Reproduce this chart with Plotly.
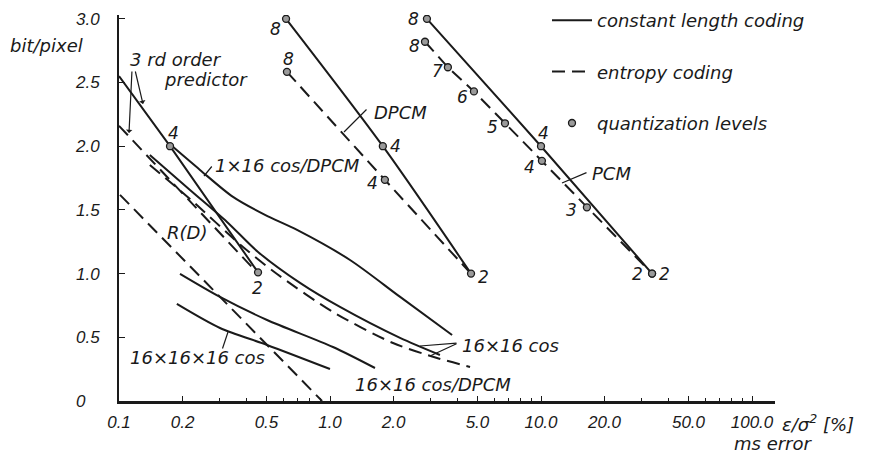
import math
import plotly.graph_objects as go

# ---------------- data ----------------
# PCM
pcm_cl_x = [2.88, 10.0, 33.6]
pcm_cl_y = [3.0, 2.0, 1.0]
pcm_cl_lv = ["8", "4", "2"]
pcm_ec_x = [2.82, 3.62, 4.81, 6.75, 10.1, 16.5, 33.6]
pcm_ec_y = [2.82, 2.62, 2.43, 2.18, 1.885, 1.52, 1.0]
pcm_ec_lv = ["8", "7", "6", "5", "4", "3", "2"]
# DPCM
dpcm_cl_x = [0.619, 1.78, 4.66]
dpcm_cl_y = [3.0, 2.0, 1.0]
dpcm_cl_lv = ["8", "4", "2"]
dpcm_ec_x = [0.625, 1.82, 4.66]
dpcm_ec_y = [2.584, 1.736, 1.0]
dpcm_ec_lv = ["8", "4"]
# DPCM, 3rd order predictor
p3_cl_x = [0.1, 0.1745, 0.456]
p3_cl_y = [2.55, 2.0, 1.01]
p3_cl_lv = ["4", "2"]
p3_ec_x = [0.1, 0.291, 0.456]
p3_ec_y = [2.16, 1.343, 1.0]
# 1x16 cos/DPCM
c1x16_x = [0.180, 0.242, 0.347, 0.492, 0.698, 1.244, 2.15, 3.79]
c1x16_y = [1.995, 1.814, 1.602, 1.461, 1.343, 1.107, 0.817, 0.518]
# 16x16 cos
c16_cl_x = [0.140, 0.217, 0.325, 0.456, 0.721, 1.115, 2.147, 3.32]
c16_cl_y = [1.932, 1.657, 1.406, 1.170, 0.927, 0.738, 0.495, 0.361]
c16_ec_x = [0.140, 0.217, 0.387, 0.561, 1.033, 1.989, 3.215, 4.61]
c16_ec_y = [1.853, 1.586, 1.209, 0.997, 0.699, 0.455, 0.338, 0.267]
# 16x16 cos/DPCM
c16d_x = [0.1946, 0.301, 0.503, 1.033, 1.634]
c16d_y = [0.998, 0.817, 0.636, 0.424, 0.259]
# 16x16x16 cos
c3d_x = [0.188, 0.301, 0.503, 1.0]
c3d_y = [0.762, 0.573, 0.44, 0.251]
# R(D)
rd_x = [0.1011, 0.279, 0.917]
rd_y = [1.618, 0.872, 0.0]

x_tickvals = [0.1, 0.2, 0.5, 1, 2, 5, 10, 20, 50, 100]
x_ticktext = ["0.1", "0.2", "0.5", "1.0", "2.0", "5.0", "10.0", "20.0", "50.0", "100.0"]
x_minor = [0.3, 0.4, 0.6, 0.7, 0.8, 0.9, 3, 4, 6, 7, 8, 9, 30, 40, 60, 70, 80, 90]
y_tickvals = [0, 0.5, 1.0, 1.5, 2.0, 2.5, 3.0]
y_ticktext = ["0\u00a0\u00a0\u00a0", "0.5", "1.0", "1.5", "2.0", "2.5", "3.0"]

# ---------------- styling ----------------
INK = "#1a1a1a"
LW = 2.0
DASH = "13px,7px"
LFONT = dict(family="DejaVu Sans", size=18, color=INK, style="italic")
NFONT = dict(family="DejaVu Sans", size=17, color=INK, style="italic")
TFONT = dict(family="Liberation Sans", size=17, color=INK, style="italic")

# page layout (page pixels); the page body adds an 8 px offset
OFF = 8
L, R, T, B = 119, 775, 15, 401
FW, FH = 878 - OFF, 460 - OFF

fig = go.Figure()


def line(x, y, dashed=False, name=None, legend=False, shape="linear"):
    fig.add_trace(go.Scatter(
        x=x, y=y, mode="lines", name=name, showlegend=legend,
        legendgroup=name if legend else None,
        line=dict(color=INK, width=LW, dash=DASH if dashed else "solid", shape=shape, smoothing=0.8),
        hoverinfo="skip"))


line(pcm_cl_x, pcm_cl_y, name="constant length coding", legend=True)
line(pcm_ec_x, pcm_ec_y, dashed=True, name="entropy coding", legend=True)
line(dpcm_cl_x, dpcm_cl_y, shape="spline")
line(dpcm_ec_x, dpcm_ec_y, dashed=True, shape="spline")
line(p3_cl_x, p3_cl_y)
line(p3_ec_x, p3_ec_y, dashed=True)
line(c1x16_x, c1x16_y, shape="spline")
line(c16_cl_x, c16_cl_y, shape="spline")
line(c16_ec_x, c16_ec_y, dashed=True, shape="spline")
line(c16d_x, c16d_y, shape="spline")
line(c3d_x, c3d_y, shape="spline")
line(rd_x, rd_y, dashed=True)

# quantization level markers
mk_x = pcm_cl_x + pcm_ec_x + dpcm_cl_x + dpcm_ec_x[:2] + p3_cl_x[1:]
mk_y = pcm_cl_y + pcm_ec_y + dpcm_cl_y + dpcm_ec_y[:2] + p3_cl_y[1:]
fig.add_trace(go.Scatter(
    x=mk_x, y=mk_y, mode="markers", name="quantization levels", legendgroup="q",
    marker=dict(size=7, color="#9a9a9a", line=dict(color=INK, width=1.3)),
    hoverinfo="skip"))


def labels(x, y, t, shifts):
    for xi, yi, ti, (dx, dy) in zip(x, y, t, shifts):
        fig.add_annotation(x=math.log10(xi), y=yi, xref="x", yref="y", text=ti,
                           showarrow=False, xshift=dx, yshift=dy, font=NFONT)


labels(pcm_cl_x, pcm_cl_y, pcm_cl_lv, [(-13, 0), (2, 13), (12, 0)])
labels(pcm_ec_x, pcm_ec_y, pcm_ec_lv,
       [(-11, -4), (-10, -4), (-11, -6), (-12, -4), (-12, -6), (-15, -3), (-15, 0)])
labels(dpcm_cl_x, dpcm_cl_y, dpcm_cl_lv, [(-11, -10), (13, 0), (12, -3)])
labels(dpcm_ec_x[:2], dpcm_ec_y[:2], dpcm_ec_lv, [(2, 13), (-12, -3)])
labels(p3_cl_x[1:], p3_cl_y[1:], p3_cl_lv, [(3, 13), (-1, -16)])

# ---------------- annotations ----------------


def P(px, py):
    return (px - L) / (R - L), (B - py) / (B - T)


def text(s, px, py, anchor="left"):
    x, y = P(px, py)
    fig.add_annotation(x=x, y=y, xref="paper", yref="paper", text=s, showarrow=False,
                       xanchor=anchor, yanchor="middle", font=LFONT)


def pointer(hx, hy, tx, ty, head=0):
    x, y = P(hx, hy)
    fig.add_annotation(x=x, y=y, xref="paper", yref="paper", text="", showarrow=True,
                       ax=tx - hx, ay=ty - hy, arrowhead=head, arrowsize=0.9,
                       arrowwidth=1.2, arrowcolor=INK, standoff=0)


text("bit/pixel", 8, 45)
text("3 rd order", 128, 60)
text("predictor", 162, 79)
text("DPCM", 372, 112)
text("PCM", 590, 173)
text("1×16 cos/DPCM", 213, 165)
text("R(D)", 165, 232)
text("16×16×16 cos", 128, 357)
text("16×16 cos", 460, 345)
text("16×16 cos/DPCM", 353, 384)
text("ε/σ<sup>2</sup> [%]", 780, 423)
text("ms error", 773, 443, anchor="center")

pointer(129, 133, 132, 70, head=1)
pointer(143, 104, 135, 70, head=1)
pointer(344, 132, 368, 108)
pointer(562, 183, 588, 172)
pointer(204, 176, 213, 165)
pointer(228, 332, 222, 350)
pointer(420, 346, 458, 343)
pointer(430, 356, 458, 343)

lx, _ = P(547, 0)
_, ly = P(0, 2)
fig.update_layout(
    width=FW, height=FH,
    margin=dict(l=L - OFF, r=FW - (R - OFF), t=T - OFF, b=FH - (B - OFF), autoexpand=False),
    paper_bgcolor="white", plot_bgcolor="white",
    showlegend=True,
    legend=dict(x=lx, y=ly, xanchor="left", yanchor="top",
                font=LFONT, bgcolor="rgba(0,0,0,0)", tracegroupgap=25,
                traceorder="grouped", itemwidth=40),
    xaxis=dict(type="log", range=[-1, 2.109], tickvals=x_tickvals, ticktext=x_ticktext,
               ticks="inside", ticklen=5, tickwidth=1.3, tickcolor=INK,
               showline=True, linewidth=2.5, linecolor=INK, showgrid=False, zeroline=False,
               tickfont=TFONT, ticklabelstandoff=4,
               minor=dict(tickvals=x_minor, ticks="inside", ticklen=3, tickcolor=INK)),
    yaxis=dict(range=[0, 3.03], tickvals=y_tickvals, ticktext=y_ticktext,
               ticks="inside", ticklen=6, tickwidth=1.3, tickcolor=INK,
               showline=True, linewidth=2, linecolor=INK, showgrid=False, zeroline=False,
               tickfont=TFONT, ticklabelstandoff=14),
)

fig.write_html("out.html")
